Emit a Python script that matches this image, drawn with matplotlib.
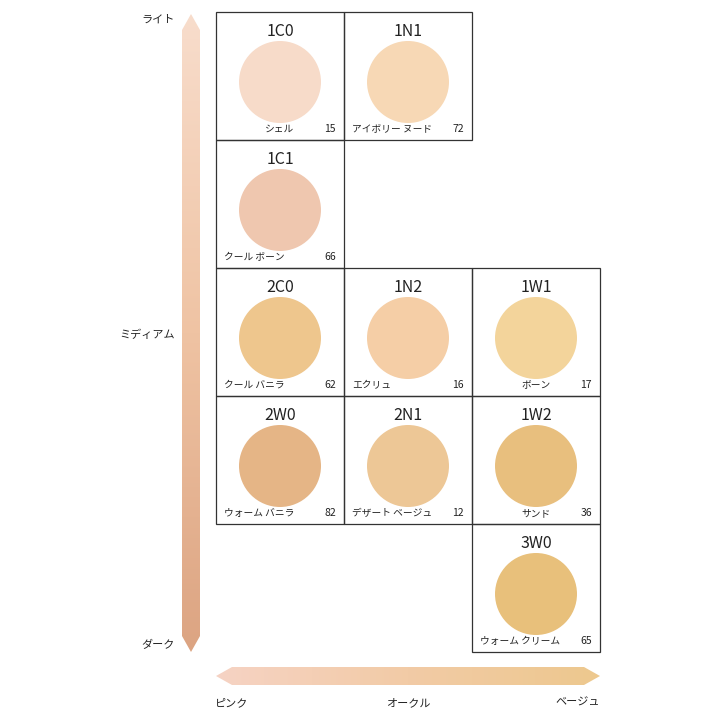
import matplotlib
matplotlib.use("Agg")
import matplotlib.pyplot as plt
import numpy as np
from matplotlib.patches import Polygon, Circle, Rectangle
from matplotlib.colors import LinearSegmentedColormap

plt.rcParams['font.family'] = ['Noto Sans CJK JP', 'DejaVu Sans']

codes = ["1C0", "1N1", "1C1", "2C0", "1N2", "1W1", "2W0", "2N1", "1W2", "3W0"]
names = ["シェル", "アイボリー ヌード", "クール ボーン", "クール バニラ", "エクリュ", "ボーン",
         "ウォーム バニラ", "デザート ベージュ", "サンド", "ウォーム クリーム"]
numbers = ["15", "72", "66", "62", "16", "17", "82", "12", "36", "65"]
cols = [0, 1, 0, 0, 1, 2, 0, 1, 2, 2]
rows = [0, 0, 1, 2, 2, 2, 3, 3, 3, 4]
colors = ["#f7dbc9", "#f7d8b5", "#efc7af", "#eec68d", "#f5cea6", "#f3d49b",
          "#e5b586", "#edc796", "#e8bf7e", "#e8c07b"]
v_labels = ["ライト", "ミディアム", "ダーク"]
h_labels = ["ピンク", "オークル", "ベージュ"]

fig = plt.figure(figsize=(7.2, 7.2), dpi=100)
ax = fig.add_axes([0, 0, 1, 1])
ax.set_xlim(0, 720); ax.set_ylim(720, 0); ax.axis('off')

x0, y0, s = 216, 12, 128
for c, n, num, ci, ri, col in zip(codes, names, numbers, cols, rows, colors):
    x = x0 + ci * s; y = y0 + ri * s
    ax.add_patch(Rectangle((x, y), s, s, fill=False, ec="#333333", lw=0.9))
    ax.add_patch(Circle((x + 64, y + 70), 41, fc=col, ec='none'))
    ax.text(x + 64, y + 20, c, ha='center', va='center', fontsize=11.5, color="#222222")
    ax.text(x + 64 if len(n) <= 3 else x + 8, y + 117, n, ha='center' if len(n) <= 3 else 'left',
            va='center', fontsize=7, color="#222222")
    ax.text(x + 120, y + 117, num, ha='right', va='center', fontsize=7.5, color="#222222")

# vertical gradient arrow
vpoly = Polygon([(191, 14), (200, 30), (200, 636), (191, 652), (182, 636), (182, 30)], closed=True, fc='none', ec='none')
ax.add_patch(vpoly)
cmv = LinearSegmentedColormap.from_list("v", ["#f8ddcc", "#efc3a3", "#dca482"])
im = ax.imshow(np.linspace(0, 1, 256).reshape(-1, 1), cmap=cmv, extent=(182, 200, 652, 14), aspect='auto', zorder=1)
im.set_clip_path(vpoly)

hpoly = Polygon([(216, 676), (232, 667), (584, 667), (600, 676), (584, 685), (232, 685)], closed=True, fc='none', ec='none')
ax.add_patch(hpoly)
cmh = LinearSegmentedColormap.from_list("h", ["#f6d3c4", "#f2cba6", "#edc88e"])
im2 = ax.imshow(np.linspace(0, 1, 256).reshape(1, -1), cmap=cmh, extent=(216, 600, 685, 667), aspect='auto', zorder=1)
im2.set_clip_path(hpoly)
ax.set_xlim(0, 720); ax.set_ylim(720, 0)

for t, y in zip(v_labels, [20, 335, 645]):
    ax.text(175, y, t, ha='right', va='center', fontsize=8, color="#222222")
for t, x in zip(h_labels, [232, 408, 578]):
    ax.text(x, 703, t, ha='center', va='center', fontsize=8, color="#222222")

fig.savefig("out.png", dpi=100, facecolor='white')
